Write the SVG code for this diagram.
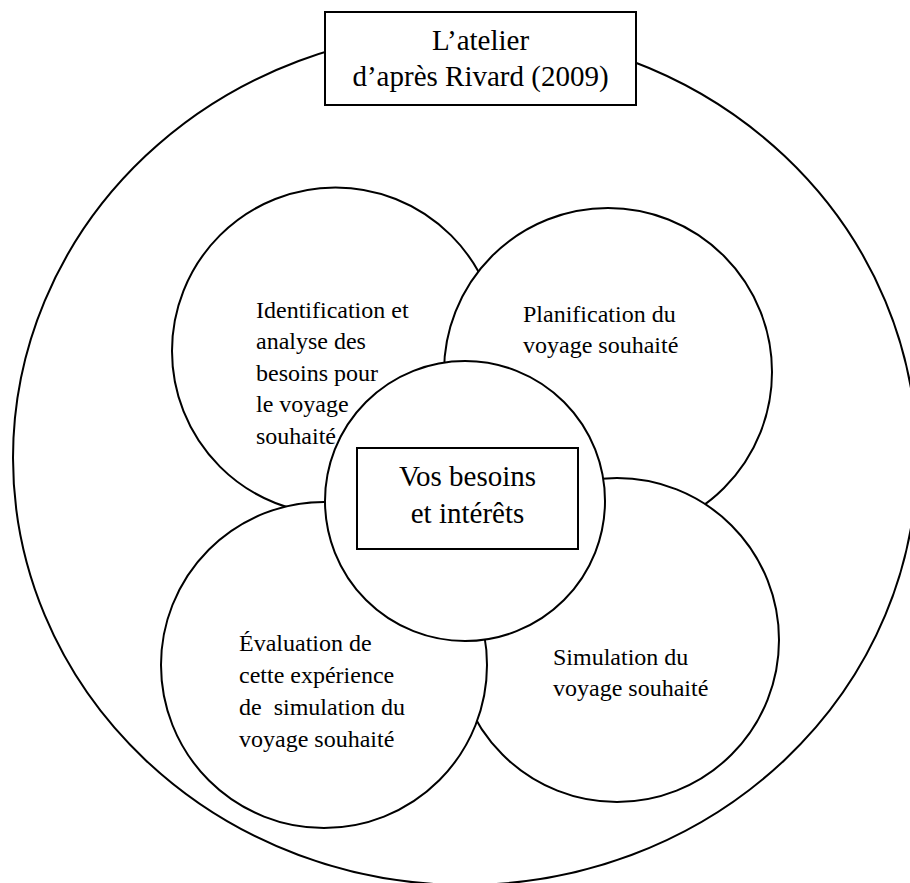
<svg xmlns="http://www.w3.org/2000/svg" width="910" height="883" viewBox="0 0 910 883">
  <style>
    .ring { fill: #ffffff; stroke: #000000; stroke-width: 2; }
    .box { fill: #ffffff; stroke: #000000; stroke-width: 2; }
    .lbl { font-family: "Liberation Serif", "Times New Roman", serif; font-size: 24px; fill: #000000; white-space: pre; }
    .ttl { font-family: "Liberation Serif", "Times New Roman", serif; font-size: 29px; fill: #000000; text-anchor: middle; }
  </style>
  <rect width="910" height="883" fill="#ffffff"/>

  <!-- outer workshop boundary -->
  <g id="atelier">
    <ellipse class="ring" cx="465" cy="458" rx="452" ry="427"/>
  </g>

  <!-- title box on the boundary -->
  <g id="titre">
    <rect class="box" x="325" y="12" width="311" height="93"/>
    <text class="ttl" x="480.5" y="50">L’atelier</text>
    <text class="ttl" x="480.5" y="86">d’après Rivard (2009)</text>
  </g>

  <!-- no connectors: the stages touch by overlapping -->
  <g id="connecteurs"/>

  <!-- stage 1 -->
  <g id="identification">
    <circle class="ring" cx="335.5" cy="351" r="163.5"/>
    <text class="lbl" x="256" y="318">Identification et</text>
    <text class="lbl" x="256" y="349">analyse des</text>
    <text class="lbl" x="256" y="381">besoins pour</text>
    <text class="lbl" x="256" y="412">le voyage</text>
    <text class="lbl" x="256" y="444">souhaité</text>
  </g>

  <!-- stage 2 -->
  <g id="planification">
    <circle class="ring" cx="608" cy="372" r="164"/>
    <text class="lbl" x="523" y="322">Planification du</text>
    <text class="lbl" x="523" y="353">voyage souhaité</text>
  </g>

  <!-- stage 3 -->
  <g id="simulation">
    <circle class="ring" cx="617" cy="640" r="162"/>
    <text class="lbl" x="553" y="665">Simulation du</text>
    <text class="lbl" x="553" y="696">voyage souhaité</text>
  </g>

  <!-- stage 4 -->
  <g id="evaluation">
    <circle class="ring" cx="324" cy="665" r="163"/>
    <text class="lbl" x="239" y="651">Évaluation de</text>
    <text class="lbl" x="239" y="683">cette expérience</text>
    <text class="lbl" x="239" y="715">de  simulation du</text>
    <text class="lbl" x="239" y="747">voyage souhaité</text>
  </g>

  <!-- hub -->
  <g id="besoins">
    <circle class="ring" cx="465" cy="501" r="140"/>
    <rect class="box" x="357" y="448" width="221" height="101"/>
    <text class="ttl" x="467.5" y="486">Vos besoins</text>
    <text class="ttl" x="467.5" y="523">et intérêts</text>
  </g>
</svg>
